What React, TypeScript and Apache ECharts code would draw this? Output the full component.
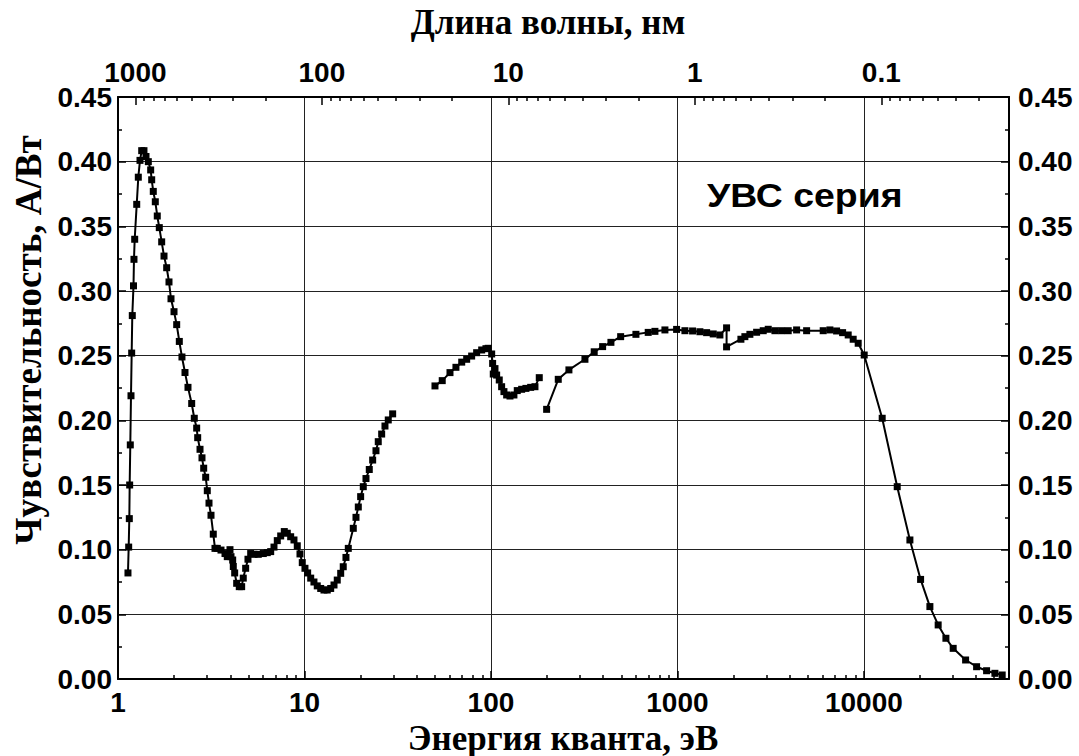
import React, { useEffect, useRef } from 'react';
import * as echarts from 'echarts';

// Series 1: photon energy (eV) and sensitivity (A/W)
const E1 = [1.131, 1.141, 1.150, 1.155, 1.164, 1.174, 1.184, 1.193, 1.211, 1.218, 1.229, 1.260, 1.285, 1.312, 1.340, 1.378, 1.413, 1.454, 1.497, 1.516, 1.546, 1.585, 1.624, 1.665, 1.715, 1.765, 1.824, 1.877, 1.924, 1.997, 2.064, 2.132, 2.203, 2.287, 2.373, 2.484, 2.565, 2.642, 2.675, 2.753, 2.821, 2.881, 2.953, 3.012, 3.076, 3.153, 3.243, 3.312, 3.408, 3.567, 3.748, 3.855, 3.986, 4.036, 4.121, 4.152, 4.224, 4.329, 4.470, 4.604, 4.696, 4.837, 4.977, 5.146, 5.362, 5.654, 6.014, 6.317, 6.589, 6.863, 7.148, 7.455, 7.794, 8.089, 8.433, 8.784, 9.149, 9.461, 9.732, 10.06, 10.40, 10.80, 11.24, 11.71, 12.22, 12.72, 13.25, 13.82, 14.40, 14.99, 15.64, 16.14, 16.69, 17.18, 18.27, 18.89, 19.44, 20.01, 20.67, 21.37, 22.26, 23.21, 24.18, 24.87, 25.94, 27.02, 28.14, 29.71];
const V1 = [0.082, 0.102, 0.124, 0.150, 0.181, 0.219, 0.252, 0.281, 0.304, 0.3245, 0.340, 0.367, 0.388, 0.401, 0.4085, 0.4085, 0.404, 0.400, 0.3936, 0.386, 0.377, 0.369, 0.358, 0.349, 0.338, 0.327, 0.318, 0.307, 0.294, 0.284, 0.274, 0.261, 0.249, 0.237, 0.2255, 0.213, 0.2016, 0.194, 0.1866, 0.1776, 0.171, 0.163, 0.156, 0.1456, 0.136, 0.1266, 0.112, 0.101, 0.101, 0.0997, 0.097, 0.0946, 0.100, 0.0946, 0.092, 0.087, 0.082, 0.074, 0.0714, 0.0714, 0.078, 0.0856, 0.0926, 0.097, 0.0964, 0.0964, 0.097, 0.0977, 0.0985, 0.102, 0.107, 0.1106, 0.114, 0.1127, 0.110, 0.1075, 0.103, 0.0967, 0.090, 0.0856, 0.082, 0.078, 0.075, 0.072, 0.070, 0.0688, 0.0688, 0.070, 0.0727, 0.0765, 0.0817, 0.0868, 0.094, 0.101, 0.1165, 0.125, 0.133, 0.141, 0.1487, 0.155, 0.162, 0.1693, 0.1765, 0.1835, 0.1894, 0.1956, 0.2003, 0.205];

// Series 2
const E2 = [50.1, 54.8, 60.3, 64.9, 69.7, 74.1, 78.8, 83.8, 89.2, 94.0, 96.7, 100.9, 102.1, 102.9, 105.1, 107.3, 110.8, 114.1, 117.4, 121.4, 126.5, 132.8, 138.4, 146.1, 154.0, 163.3, 172.2, 181.6];
const V2 = [0.2266, 0.2307, 0.2369, 0.241, 0.245, 0.2472, 0.2497, 0.2523, 0.2544, 0.2554, 0.2557, 0.2513, 0.244, 0.2358, 0.240, 0.235, 0.2312, 0.226, 0.2222, 0.2196, 0.2188, 0.2196, 0.223, 0.224, 0.2247, 0.2255, 0.226, 0.233];

// Series 3
const E3 = [198.9, 229.6, 261.9, 319.2, 357.9, 397.1, 439.9, 496.1, 599.0, 697.1, 757.5, 857.0, 990, 1097, 1206, 1320, 1434, 1556, 1690, 1835, 1835, 2190, 2300, 2447, 2659, 2885, 3069, 3333, 3620, 3928, 4357, 4930, 6050, 6572, 7138, 7689, 8238, 8761, 9320, 10037, 12535, 15090, 17650, 20140, 22590, 25020, 27530, 30120, 35110, 40220, 45500, 50420, 55160];
const V3 = [0.2085, 0.2317, 0.239, 0.2472, 0.253, 0.257, 0.2603, 0.2647, 0.2665, 0.268, 0.2688, 0.2699, 0.2703, 0.2693, 0.2691, 0.2685, 0.2678, 0.2668, 0.266, 0.2715, 0.2568, 0.2627, 0.2647, 0.2665, 0.2681, 0.2693, 0.2704, 0.2693, 0.2693, 0.2693, 0.2699, 0.2693, 0.2693, 0.2699, 0.2691, 0.2678, 0.266, 0.2627, 0.2596, 0.2505, 0.2016, 0.1487, 0.1075, 0.077, 0.056, 0.0418, 0.0315, 0.0237, 0.0147, 0.0095, 0.0064, 0.0044, 0.0031];

// Axis ticks
const E_MAX = 60000;
const X_MAJOR = [1, 10, 100, 1000, 10000];
const X_MINOR = [2, 3, 4, 5, 6, 7, 8, 9, 20, 30, 40, 50, 60, 70, 80, 90, 200, 300, 400, 500, 600, 700, 800, 900, 2000, 3000, 4000, 5000, 6000, 7000, 8000, 9000, 20000, 30000, 40000, 50000];
const WL_MAJOR = [1000, 100, 10, 1, 0.1];
const WL_MINOR = [900, 800, 700, 600, 500, 400, 300, 200, 90, 80, 70, 60, 50, 40, 30, 20, 9, 8, 7, 6, 5, 4, 3, 2, 0.9, 0.8, 0.7, 0.6, 0.5, 0.4, 0.3, 0.2, 0.09, 0.08, 0.07, 0.06, 0.05, 0.04, 0.03];
const HC = 1240; // eV*nm

const TITLE_X = 'Энергия кванта, эВ';
const TITLE_TOP = 'Длина волны, нм';
const TITLE_Y = 'Чувствительность, А/Вт';
const LABEL = 'УВС серия';

const lg = (v: number) => Math.log10(v);
const LMAX = lg(E_MAX);

const SANS = '"Liberation Sans", Arial, sans-serif';
const SERIF = '"Liberation Serif", "Times New Roman", serif';

const tickFont = { fontFamily: SANS, fontWeight: 'bold' as const, fontSize: 28, color: '#000' };

function mk(E: number[], V: number[]) {
  return E.map((e, i) => [lg(e), V[i]]);
}

export default function App() {
  const ref = useRef<HTMLDivElement>(null);
  useEffect(() => {
    if (!ref.current) return;
    const chart = echarts.init(ref.current, undefined, { renderer: 'svg' });
    const lineSeries = (data: number[][]) => ({
      type: 'line',
      xAxisIndex: 0,
      yAxisIndex: 0,
      data,
      symbol: 'rect',
      symbolSize: 7,
      showSymbol: true,
      itemStyle: { color: '#000' },
      lineStyle: { color: '#000', width: 2 },
      z: 5,
    });
    const xBase = {
      type: 'value',
      min: 0,
      max: LMAX,
      gridIndex: 0,
    };
    chart.setOption({
      animation: false,
      backgroundColor: '#fff',
      grid: { left: 118, right: 70, top: 97, bottom: 77, containLabel: false },
      xAxis: [
        {
          ...xBase,
          position: 'bottom',
          interval: 1,
          axisLine: { show: true, onZero: false, lineStyle: { color: '#000', width: 2 } },
          axisTick: { show: true, inside: true, length: 8, customValues: X_MAJOR.map(lg), lineStyle: { color: '#000', width: 1.5 } },
          axisLabel: { ...tickFont, margin: 9, customValues: X_MAJOR.map(lg), formatter: (v: number) => String(Math.round(Math.pow(10, v))) },
          splitLine: { show: true, lineStyle: { color: '#222', width: 1 } },
        },
        {
          ...xBase,
          position: 'bottom',
          axisLine: { show: false, onZero: false },
          axisTick: { show: true, inside: true, length: 4, customValues: X_MINOR.map(lg), lineStyle: { color: '#000', width: 1.5 } },
          axisLabel: { show: false },
          splitLine: { show: false },
        },
        {
          ...xBase,
          position: 'top',
          axisLine: { show: true, onZero: false, lineStyle: { color: '#000', width: 2 } },
          axisTick: { show: true, inside: true, length: 8, customValues: WL_MAJOR.map((w) => lg(HC / w)), lineStyle: { color: '#000', width: 1.5 } },
          axisLabel: {
            ...tickFont,
            margin: 11,
            customValues: WL_MAJOR.map((w) => lg(HC / w)),
            formatter: (v: number) => String(Number((HC / Math.pow(10, v)).toPrecision(4))),
          },
          splitLine: { show: false },
        },
        {
          ...xBase,
          position: 'top',
          axisLine: { show: false, onZero: false },
          axisTick: { show: true, inside: true, length: 4, customValues: WL_MINOR.map((w) => lg(HC / w)), lineStyle: { color: '#000', width: 1.5 } },
          axisLabel: { show: false },
          splitLine: { show: false },
        },
      ],
      yAxis: [
        {
          type: 'value',
          position: 'left',
          min: 0,
          max: 0.45,
          interval: 0.05,
          axisLine: { show: true, onZero: false, lineStyle: { color: '#000', width: 2 } },
          axisTick: { show: true, inside: true, length: 8, lineStyle: { color: '#000', width: 1.5 } },
          minorTick: { show: true, splitNumber: 2, length: 4, lineStyle: { color: '#000', width: 1.5 } },
          axisLabel: { ...tickFont, margin: 6, formatter: (v: number) => v.toFixed(2) },
          splitLine: { show: true, lineStyle: { color: '#222', width: 1 } },
        },
        {
          type: 'value',
          position: 'right',
          min: 0,
          max: 0.45,
          interval: 0.05,
          axisLine: { show: true, onZero: false, lineStyle: { color: '#000', width: 2 } },
          axisTick: { show: true, inside: true, length: 8, lineStyle: { color: '#000', width: 1.5 } },
          minorTick: { show: true, splitNumber: 2, length: 4, lineStyle: { color: '#000', width: 1.5 } },
          axisLabel: { ...tickFont, margin: 9, formatter: (v: number) => v.toFixed(2) },
          splitLine: { show: false },
        },
      ],
      series: [lineSeries(mk(E1, V1)), lineSeries(mk(E2, V2)), lineSeries(mk(E3, V3))],
      graphic: [
        {
          type: 'text',
          x: 548,
          y: 22,
          style: { text: TITLE_TOP, align: 'center', verticalAlign: 'middle', fontFamily: SERIF, fontWeight: 'bold', fontSize: 35, fill: '#000' },
        },
        {
          type: 'text',
          x: 563,
          y: 738,
          style: { text: TITLE_X, align: 'center', verticalAlign: 'middle', fontFamily: SERIF, fontWeight: 'bold', fontSize: 35, fill: '#000' },
        },
        {
          type: 'text',
          x: 28,
          y: 340,
          rotation: Math.PI / 2,
          style: { text: TITLE_Y, align: 'center', verticalAlign: 'middle', fontFamily: SERIF, fontWeight: 'bold', fontSize: 37, fill: '#000' },
        },
        {
          type: 'text',
          x: 707,
          y: 196,
          scaleX: 1.1,
          style: { text: LABEL, align: 'left', verticalAlign: 'middle', fontFamily: SANS, fontWeight: 'bold', fontSize: 34, fill: '#000' },
        },
      ],
    });
    return () => chart.dispose();
  }, []);
  return (
    <div
      ref={ref}
      style={{ position: 'fixed', left: 0, top: 0, width: 1079, height: 756, background: '#fff' }}
    />
  );
}
